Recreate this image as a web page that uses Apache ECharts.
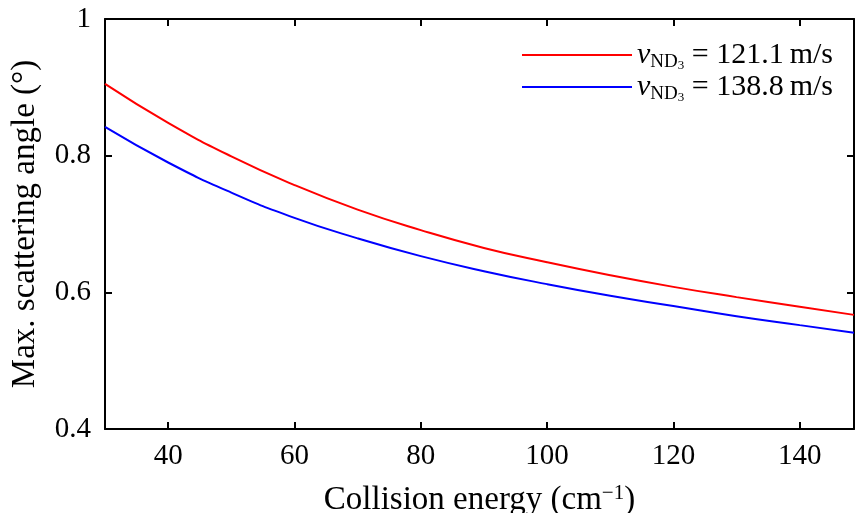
<!DOCTYPE html>
<html>
<head>
<meta charset="utf-8">
<script src="https://cdn.jsdelivr.net/npm/echarts@6/dist/echarts.min.js"></script>
<style>html,body{margin:0;padding:0;background:#fff}#c{width:856px;height:513px}</style>
</head>
<body>
<div id="c"></div>
<script>
// Collision energy (cm^-1)
var energy = [30, 40, 50, 60, 70, 80, 90, 100, 110, 120, 130, 140, 148.6];
// Max. scattering angle (deg) for v = 121.1 m/s
var angleSlow = [0.905, 0.848, 0.799, 0.757, 0.721, 0.691, 0.665, 0.644, 0.625, 0.608, 0.593, 0.579, 0.567];
// Max. scattering angle (deg) for v = 138.8 m/s
var angleFast = [0.842, 0.790, 0.746, 0.709, 0.679, 0.653, 0.631, 0.612, 0.595, 0.580, 0.565, 0.552, 0.541];
var speeds = ['121.1', '138.8'];
var xTicks = [40, 60, 80, 100, 120, 140];
var yTicks = [0.4, 0.6, 0.8, 1];
var xMin = 30, xMax = 148.6, yMin = 0.4, yMax = 1;

var FONT = '"Liberation Serif", "DejaVu Serif", serif';
function pairs(xs, ys) { return xs.map(function (x, i) { return [x, ys[i]]; }); }
var names = speeds.map(function (s) { return 'v' + s; });

var chart = echarts.init(document.getElementById('c'), null, { renderer: 'canvas' });
var axisLine = { show: true, lineStyle: { color: '#000', width: 2 } };
var tickStyle = { inside: true, length: 7, lineStyle: { color: '#000', width: 2 } };
chart.setOption({
  animation: false,
  backgroundColor: '#fff',
  grid: { left: 105, right: 2, top: 19, bottom: 84, containLabel: false, outerBoundsMode: 'none' },
  legend: {
    orient: 'vertical',
    left: 517, top: 35,
    icon: 'rect',
    itemWidth: 110, itemHeight: 2, itemGap: 0,
    data: names,
    formatter: function (n) {
      return '{v|v}{sub|ND}{ss|3}{n| = ' + n.slice(1) + '\u2009m/s}';
    },
    textStyle: {
      fontFamily: FONT, color: '#000', fontSize: 30,
      rich: {
        v: { fontFamily: FONT, fontStyle: 'italic', fontSize: 30, lineHeight: 34 },
        sub: { fontFamily: FONT, fontSize: 19, lineHeight: 20, verticalAlign: 'bottom' },
        ss: { fontFamily: FONT, fontSize: 13, lineHeight: 11, verticalAlign: 'bottom' },
        n: { fontFamily: FONT, fontSize: 30, lineHeight: 34 }
      }
    }
  },
  xAxis: [{
    type: 'value', min: xMin, max: xMax, position: 'bottom',
    name: 'Collision energy (cm{sup|\u22121})',
    nameLocation: 'middle', nameGap: 54,
    nameTextStyle: { fontFamily: FONT, fontSize: 33, color: '#000',
      rich: { sup: { fontFamily: FONT, fontSize: 21, verticalAlign: 'top', lineHeight: 34 } } },
    axisLine: axisLine,
    axisTick: Object.assign({ customValues: xTicks }, tickStyle),
    axisLabel: { customValues: xTicks, fontFamily: FONT, fontSize: 29, color: '#000', margin: 13 },
    splitLine: { show: false }
  }, {
    type: 'value', min: xMin, max: xMax, position: 'top',
    axisLine: axisLine,
    axisTick: Object.assign({ customValues: xTicks }, tickStyle),
    axisLabel: { show: false },
    splitLine: { show: false }
  }],
  yAxis: [{
    type: 'value', min: yMin, max: yMax, interval: 0.2, position: 'left',
    name: 'Max. scattering angle (\u00b0)',
    nameLocation: 'middle', nameGap: 63,
    nameTextStyle: { fontFamily: FONT, fontSize: 33, color: '#000' },
    axisLine: axisLine,
    axisTick: Object.assign({ customValues: yTicks }, tickStyle),
    axisLabel: { customValues: yTicks, fontFamily: FONT, fontSize: 29, color: '#000', margin: 14,
      formatter: function (v) { return String(Math.round(v * 10) / 10); } },
    splitLine: { show: false }
  }, {
    type: 'value', min: yMin, max: yMax, interval: 0.2, position: 'right',
    axisLine: axisLine,
    axisTick: Object.assign({ customValues: yTicks }, tickStyle),
    axisLabel: { show: false },
    splitLine: { show: false }
  }],
  series: [{
    name: names[0], type: 'line', xAxisIndex: 0, yAxisIndex: 0,
    data: pairs(energy, angleSlow), smooth: 0.5, symbol: 'none',
    lineStyle: { color: '#ff0000', width: 2 }, itemStyle: { color: '#ff0000' }
  }, {
    name: names[1], type: 'line', xAxisIndex: 0, yAxisIndex: 0,
    data: pairs(energy, angleFast), smooth: 0.5, symbol: 'none',
    lineStyle: { color: '#0000ff', width: 2 }, itemStyle: { color: '#0000ff' }
  }]
});
</script>
</body>
</html>
